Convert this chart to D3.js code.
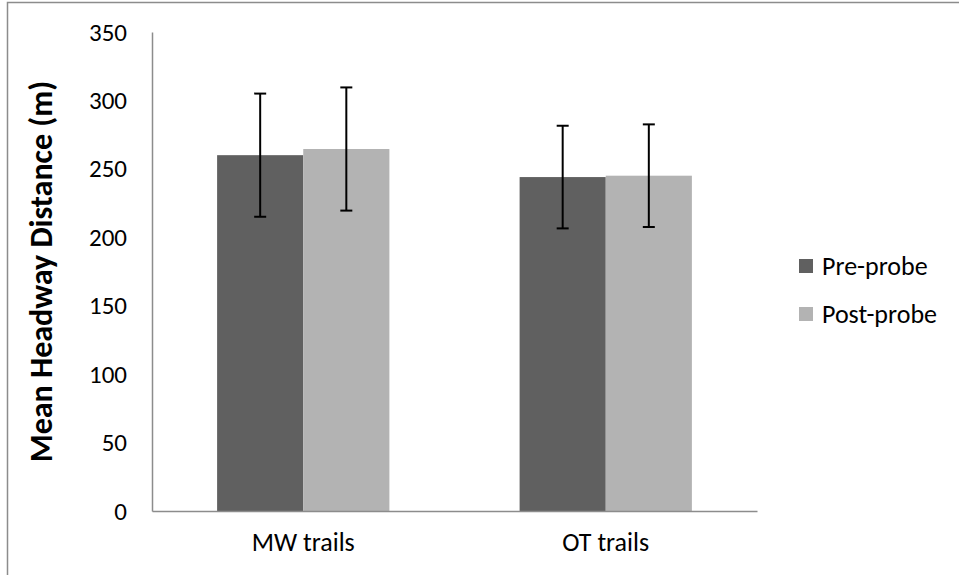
<!DOCTYPE html>
<html>
<head>
<meta charset="utf-8">
<script src="https://cdn.jsdelivr.net/npm/d3@7"></script>
<style>
	body { margin: 0; background: #fff; }
	text { font-family: Carlito, "Open Sans", "Noto Sans", sans-serif; fill: #000; }
</style>
</head>
<body>
<div id="chart"></div>
<script>
	var categories = ["MW trails", "OT trails"]
	var seriesNames = ["Pre-probe", "Post-probe"]
	var preValues = [260, 244]
	var postValues = [264.5, 245]
	var preErrors = [45, 37.5]
	var postErrors = [45, 37.5]
	var yTicks = [0, 50, 100, 150, 200, 250, 300, 350]

	var w = 959
	var h = 575
	var boundaries = {
		top: 32,
		bottom: 511,
		left: 152,
		right: 757
	}
	var colors = ["#606060", "#b3b3b3"]

	var svg = d3.select("#chart")
		.append("svg")
		.attr("width", w)
		.attr("height", h)

	// outer chart border
	svg.append("rect")
		.attr("x", 7.5)
		.attr("y", 2.5)
		.attr("width", w + 20)
		.attr("height", h + 20)
		.attr("fill", "none")
		.attr("stroke", "#8c8c8c")
		.attr("stroke-width", 1.5)

	var data = categories.map((c, i) => ({
		cat: c,
		vals: [
			{ s: 0, v: preValues[i], e: preErrors[i] },
			{ s: 1, v: postValues[i], e: postErrors[i] }
		]
	}))

	// x Scale
	var xScale = d3.scaleBand()
		.domain(categories)
		.range([boundaries.left, boundaries.right])
		.paddingInner(0)
		.paddingOuter(0)

	var groupInner = 172 / 302
	var xInner = d3.scaleBand()
		.domain([0, 1])
		.range([0, xScale.bandwidth() * groupInner])

	var yScale = d3.scaleLinear()
		.domain([0, 350])
		.range([boundaries.bottom, boundaries.top])

	var groups = svg.selectAll(".group")
		.data(data)
		.enter()
		.append("g").attr("class", "group")
		.attr("transform", d => "translate(" + (xScale(d.cat) + xScale.bandwidth() * (1 - groupInner) / 2) + ",0)")

	groups.selectAll("rect")
		.data(d => d.vals)
		.enter()
		.append("rect")
		.attr("x", d => xInner(d.s))
		.attr("y", d => yScale(d.v))
		.attr("width", xInner.bandwidth())
		.attr("height", d => boundaries.bottom - yScale(d.v))
		.attr("fill", d => colors[d.s])

	// error bars
	var err = groups.selectAll(".err")
		.data(d => d.vals)
		.enter()
		.append("g").attr("class", "err")
		.attr("stroke", "#000")
		.attr("stroke-width", 2)

	err.append("line")
		.attr("x1", d => xInner(d.s) + xInner.bandwidth() / 2)
		.attr("x2", d => xInner(d.s) + xInner.bandwidth() / 2)
		.attr("y1", d => yScale(d.v + d.e))
		.attr("y2", d => yScale(d.v - d.e))

	err.append("line")
		.attr("x1", d => xInner(d.s) + xInner.bandwidth() / 2 - 6)
		.attr("x2", d => xInner(d.s) + xInner.bandwidth() / 2 + 6)
		.attr("y1", d => yScale(d.v + d.e))
		.attr("y2", d => yScale(d.v + d.e))

	err.append("line")
		.attr("x1", d => xInner(d.s) + xInner.bandwidth() / 2 - 6)
		.attr("x2", d => xInner(d.s) + xInner.bandwidth() / 2 + 6)
		.attr("y1", d => yScale(d.v - d.e))
		.attr("y2", d => yScale(d.v - d.e))

	// y axis
	var yAxis = d3.axisLeft(yScale).tickValues(yTicks).tickSize(0).tickPadding(25)
	var gy = svg.append("g")
		.attr("transform", "translate(" + boundaries.left + ",0)")
		.call(yAxis)
	gy.select(".domain").attr("stroke", "#8c8c8c").attr("stroke-width", 1.5)
	gy.selectAll("text").style("font-size", "25px")

	// x axis
	var xAxis = d3.axisBottom(xScale).tickSize(0).tickPadding(22)
	var gx = svg.append("g")
		.attr("transform", "translate(0," + boundaries.bottom + ")")
		.call(xAxis)
	gx.select(".domain").attr("stroke", "#8c8c8c").attr("stroke-width", 1.5)
	gx.selectAll("text").style("font-size", "26px")

	// y label
	svg.append("text")
		.attr("transform", "rotate(-90)")
		.attr("x", -(boundaries.top + boundaries.bottom) / 2)
		.attr("y", 52)
		.style("text-anchor", "middle")
		.style("font-size", "32px")
		.style("font-weight", "bold")
		.text("Mean Headway Distance (m)")

	// legend
	var legend = svg.selectAll(".legend")
		.data(seriesNames)
		.enter()
		.append("g").attr("class", "legend")
		.attr("transform", (d, i) => "translate(799," + (259 + i * 48) + ")")

	legend.append("rect")
		.attr("width", 14)
		.attr("height", 14)
		.attr("fill", (d, i) => colors[i])

	legend.append("text")
		.attr("x", 23)
		.attr("y", 7)
		.attr("dy", "0.35em")
		.style("font-size", "26px")
		.text(d => d)
</script>
</body>
</html>
